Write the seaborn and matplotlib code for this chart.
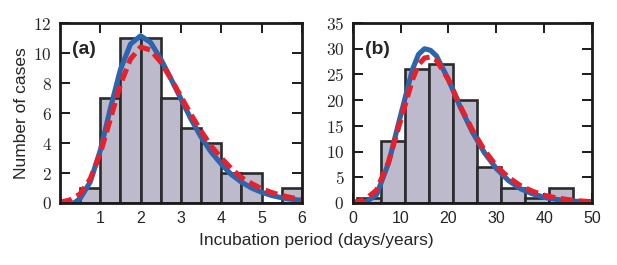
import matplotlib
matplotlib.use("Agg")
import matplotlib.pyplot as plt
import seaborn as sns
from matplotlib.ticker import FuncFormatter

# histogram data (a)
edges_a = [0.5, 1.0, 1.5, 2.0, 2.5, 3.0, 3.5, 4.0, 4.5, 5.0, 5.5, 6.0]
counts_a = [1, 7, 11, 11, 7, 5, 4, 2, 2, 0, 1]

# fitted curves (a)
blue_x_a = [0.35, 0.5, 0.75, 1.0, 1.25, 1.5, 1.75, 2.0, 2.25, 2.5, 2.75, 3.0,
            3.25, 3.5, 3.75, 4.0, 4.25, 4.5, 4.75, 5.0, 5.25, 5.5, 5.75, 6.0]
blue_y_a = [0.0, 0.3, 1.4, 3.5, 6.3, 8.9, 10.6, 11.15, 10.7, 9.6, 8.3, 6.95,
            5.6, 4.4, 3.4, 2.6, 1.9, 1.4, 1.0, 0.72, 0.5, 0.35, 0.25, 0.17]
red_x_a = [0.0, 0.25, 0.5, 0.75, 1.0, 1.25, 1.5, 1.75, 2.0, 2.25, 2.5, 2.75, 3.0,
           3.25, 3.5, 3.75, 4.0, 4.25, 4.5, 4.75, 5.0, 5.25, 5.5, 5.75, 6.0]
red_y_a = [0.05, 0.2, 0.6, 1.6, 3.3, 5.6, 7.9, 9.6, 10.4, 10.2, 9.4, 8.3, 7.1,
           5.9, 4.8, 3.8, 3.0, 2.3, 1.7, 1.3, 0.95, 0.7, 0.5, 0.35, 0.25]

# histogram data (b)
edges_b = [1, 6, 11, 16, 21, 26, 31, 36, 41, 46, 51]
counts_b = [1, 12, 26, 27, 20, 7, 3, 1, 3, 0]

# fitted curves (b)
blue_x_b = [2.5, 5, 7.5, 10, 12.5, 13.75, 15, 16.25, 17.5, 20, 22.5, 25, 27.5,
            30, 32.5, 35, 37.5, 40, 42.5, 45, 47.5, 50]
blue_y_b = [0.0, 1.6, 7.8, 17.0, 26.0, 28.9, 30.0, 29.7, 28.6, 24.0, 18.6, 13.8, 9.8,
            6.7, 4.4, 2.8, 1.8, 1.1, 0.7, 0.45, 0.28, 0.17]
red_x_b = [0, 2.5, 5, 7.5, 10, 12.5, 13.75, 15, 16.25, 17.5, 20, 22.5, 25, 27.5,
           30, 32.5, 35, 37.5, 40, 42.5, 45, 47.5, 50]
red_y_b = [0.1, 0.6, 2.5, 8.0, 16.0, 24.0, 26.9, 28.2, 28.4, 27.8, 24.0, 18.8, 14.2, 10.3,
           7.2, 5.0, 3.4, 2.3, 1.5, 1.0, 0.65, 0.4, 0.25]

sns.set_style("ticks")
plt.rcParams["font.family"] = ["Liberation Sans", "DejaVu Sans"]
plt.rcParams["mathtext.fontset"] = "cm"

fig = plt.figure(figsize=(6.17, 2.65), dpi=100)
ax_a = fig.add_axes([0.0972, 0.234, 0.392, 0.679])
ax_b = fig.add_axes([0.5716, 0.234, 0.388, 0.679])

bar_fill = "#bdbbcb"
bar_edge = "#2b2b2b"
blue = "#2a66b0"
red = "#e8202b"


def draw_panel(ax, edges, counts, bx, by, rx, ry):
    centers = [(edges[i] + edges[i + 1]) / 2 for i in range(len(counts))]
    sns.histplot(x=centers, weights=counts, bins=edges, ax=ax,
                 color=bar_fill, edgecolor=bar_edge, linewidth=1.9, alpha=1)
    sns.lineplot(x=bx, y=by, ax=ax, color=blue, linewidth=3.7)
    sns.lineplot(x=rx, y=ry, ax=ax, color=red, linewidth=3.7,
                 linestyle=(0, (2.4, 1.1)))
    for s in ax.spines.values():
        s.set_visible(True)
        s.set_linewidth(2.0)
        s.set_color("#1a1a1a")
    ax.tick_params(direction="in", top=True, right=True, length=7, width=1.4,
                   pad=6, color="#1a1a1a")
    ax.tick_params(axis="x", labelsize=11.5)
    ax.tick_params(axis="y", labelsize=12.5)
    ax.yaxis.set_major_formatter(FuncFormatter(lambda v, p: f"${v:g}$"))
    ax.set_xlabel("")
    ax.set_ylabel("")


# panel (a)
draw_panel(ax_a, edges_a, counts_a, blue_x_a, blue_y_a, red_x_a, red_y_a)
ax_a.set_xlim(0, 6)
ax_a.set_ylim(0, 12)
ax_a.set_xticks([1, 2, 3, 4, 5, 6])
ax_a.set_yticks([0, 2, 4, 6, 8, 10, 12])
ax_a.set_ylabel("Number of cases", fontsize=12.5, labelpad=3)
ax_a.text(0.05, 0.855, "(a)", transform=ax_a.transAxes, fontsize=14,
          fontweight="bold", va="center", ha="left")

# panel (b)
draw_panel(ax_b, edges_b, counts_b, blue_x_b, blue_y_b, red_x_b, red_y_b)
ax_b.set_xlim(0, 50)
ax_b.set_ylim(0, 35)
ax_b.set_xticks([0, 10, 20, 30, 40, 50])
ax_b.set_yticks([0, 5, 10, 15, 20, 25, 30, 35])
ax_b.text(0.05, 0.855, "(b)", transform=ax_b.transAxes, fontsize=14,
          fontweight="bold", va="center", ha="left")

fig.text(0.512, 0.094, "Incubation period (days/years)", fontsize=12.5,
         ha="center", va="center")

plt.savefig("out.png", dpi=100)
